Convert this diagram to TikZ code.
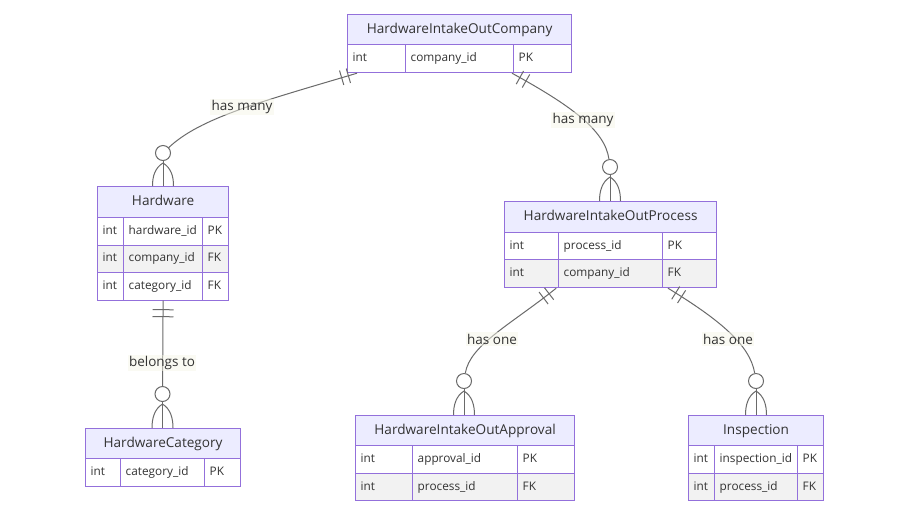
\documentclass[tikz,border=0pt]{standalone}
\usepackage{fontspec}
\setmainfont{Open Sans}
\usetikzlibrary{calc,decorations.markings}
\definecolor{erborder}{HTML}{9370DB}
\definecolor{erhead}{HTML}{ECECFF}
\definecolor{errow}{HTML}{F2F2F2}
\definecolor{ertext}{HTML}{333333}
\definecolor{erline}{HTML}{6A6A6A}
\definecolor{erlbl}{HTML}{F6F6E8}
\tikzset{
  hdrbox/.style={draw=erborder, fill=erhead, line width=1.2pt, inner sep=0pt, anchor=north west,
    text=ertext, font=\fontsize{13.6}{16}\selectfont, text height=10pt, text depth=3pt},
  cellbox/.style={draw=erborder, line width=1.2pt, inner sep=0pt, anchor=north west},
  celltext/.style={anchor=west, inner sep=0pt, text=ertext, font=\fontsize{11.8}{14}\selectfont,
    text height=8.5pt, text depth=2.5pt},
  rel/.style={draw=erline, line width=1pt},
  ercirc/.style={circle, draw=erline, line width=1pt, fill=white, minimum size=15pt, inner sep=0pt},
  lbl/.style={fill=erlbl, fill opacity=0.5, text opacity=1, text=ertext, inner sep=1.5pt,
    font=\fontsize{13.5}{16}\selectfont},
  onebars/.style={postaction={decorate}, decoration={markings,
    mark=at position 9pt with {\draw[erline, line width=1pt] (0pt,-#1pt)--(0pt,#1pt);},
    mark=at position 16pt with {\draw[erline, line width=1pt] (0pt,-#1pt)--(0pt,#1pt);}}}
}
\newcommand\erhd[6]{\node[hdrbox, minimum width=#4, minimum height=#5] (#1) at (#2,#3) {#6};}
\newcommand\ercell[7]{%
  \node[cellbox, fill=#6, minimum width=#4, minimum height=#5] (#1) at (#2,#3) {};
  \node[celltext] (#1t) at ($(#1.west)+(5.5,0)$) {#7};}
\newcommand\crowfoot[2]{%
  \coordinate (#1b) at (#1.south |- #2.north);
  \draw[rel] (#1.south) -- (#1b);
  \draw[rel] ($(#1.south)+(0,2)$) .. controls ($(#1.south)+(-8,7)$) and ($(#1b)+(-10.5,-10)$) .. ($(#1b)+(-10.5,0)$);
  \draw[rel] ($(#1.south)+(0,2)$) .. controls ($(#1.south)+(8,7)$) and ($(#1b)+(10.5,-10)$) .. ($(#1b)+(10.5,0)$);}
\begin{document}
\begin{tikzpicture}[x=1pt, y=-1pt]
\fill[white] (0,0) rectangle (909,515);
\useasboundingbox (0,0) rectangle (909,515);

% HardwareIntakeOutCompany
\erhd{comp}{347}{14}{224}{30}{HardwareIntakeOutCompany}
\ercell{compA}{347}{44}{58}{28}{white}{int}
\ercell{compB}{405}{44}{108}{28}{white}{company\_id}
\ercell{compC}{513}{44}{58}{28}{white}{PK}

% Hardware
\erhd{hw}{97}{186}{131}{31}{Hardware}
\ercell{hwA1}{97}{217}{26}{27.5}{white}{int}
\ercell{hwB1}{123}{217}{79}{27.5}{white}{hardware\_id}
\ercell{hwC1}{202}{217}{26}{27.5}{white}{PK}
\ercell{hwA2}{97}{244.5}{26}{27.5}{errow}{int}
\ercell{hwB2}{123}{244.5}{79}{27.5}{errow}{company\_id}
\ercell{hwC2}{202}{244.5}{26}{27.5}{errow}{FK}
\ercell{hwA3}{97}{272}{26}{27.5}{white}{int}
\ercell{hwB3}{123}{272}{79}{27.5}{white}{category\_id}
\ercell{hwC3}{202}{272}{26}{27.5}{white}{FK}

% HardwareCategory
\erhd{cat}{85}{428}{155}{30}{HardwareCategory}
\ercell{catA}{85}{458}{35}{28}{white}{int}
\ercell{catB}{120}{458}{84}{28}{white}{category\_id}
\ercell{catC}{204}{458}{36}{28}{white}{PK}

% HardwareIntakeOutProcess
\erhd{proc}{504}{201}{212}{31}{HardwareIntakeOutProcess}
\ercell{procA1}{504}{232}{54}{27}{white}{int}
\ercell{procB1}{558}{232}{104}{27}{white}{process\_id}
\ercell{procC1}{662}{232}{54}{27}{white}{PK}
\ercell{procA2}{504}{259}{54}{28}{errow}{int}
\ercell{procB2}{558}{259}{104}{28}{errow}{company\_id}
\ercell{procC2}{662}{259}{54}{28}{errow}{FK}

% HardwareIntakeOutApproval
\erhd{appr}{355}{415}{219}{30}{HardwareIntakeOutApproval}
\ercell{apprA1}{355}{445}{57}{28}{white}{int}
\ercell{apprB1}{412}{445}{105}{28}{white}{approval\_id}
\ercell{apprC1}{517}{445}{57}{28}{white}{PK}
\ercell{apprA2}{355}{473}{57}{27}{errow}{int}
\ercell{apprB2}{412}{473}{105}{27}{errow}{process\_id}
\ercell{apprC2}{517}{473}{57}{27}{errow}{FK}

% Inspection
\erhd{insp}{688}{415}{135}{30}{Inspection}
\ercell{inspA1}{688}{445}{26}{28}{white}{int}
\ercell{inspB1}{714}{445}{83}{28}{white}{inspection\_id}
\ercell{inspC1}{797}{445}{26}{28}{white}{PK}
\ercell{inspA2}{688}{473}{26}{27}{errow}{int}
\ercell{inspB2}{714}{473}{83}{27}{errow}{process\_id}
\ercell{inspC2}{797}{473}{26}{27}{errow}{FK}

% zero-or-many circles
\node[ercirc] (o1) at (163,153) {};
\node[ercirc] (o2) at (610,167) {};
\node[ercirc] (o3) at (162.5,394) {};
\node[ercirc] (o4) at (464,381) {};
\node[ercirc] (o5) at (756,381) {};

% start points
\coordinate (s1) at ($(compA.south west)+(10,0)$);
\coordinate (s2) at ($(compC.south west)+(-1,0)$);
\coordinate (s3) at (hw.south |- hwB3.south);
\coordinate (s4) at ($(procA2.south east)+(-3,0)$);
\coordinate (s5) at ($(procC2.south west)+(6,0)$);

% relationships
\draw[rel, onebars=7.5] (s1) .. controls (260,102) and (200,118) .. (o1);
\draw[rel, onebars=7.5] (s2) .. controls (570,105) and (605,130) .. (o2);
\draw[rel, onebars=10.5] (s3) -- (o3);
\draw[rel, onebars=7.5] (s4) .. controls (510,325) and (470,345) .. (o4);
\draw[rel, onebars=7.5] (s5) .. controls (720,320) and (750,345) .. (o5);

\crowfoot{o1}{hw}
\crowfoot{o2}{proc}
\crowfoot{o3}{cat}
\crowfoot{o4}{appr}
\crowfoot{o5}{insp}

% labels
\node[lbl] (l1) at (242,107) {has many};
\node[lbl] (l2) at (583,120) {has many};
\node[lbl] (l3) at (162,363) {belongs to};
\node[lbl] (l4) at (492,339) {has one};
\node[lbl] (l5) at (728,339) {has one};
\end{tikzpicture}
\end{document}
